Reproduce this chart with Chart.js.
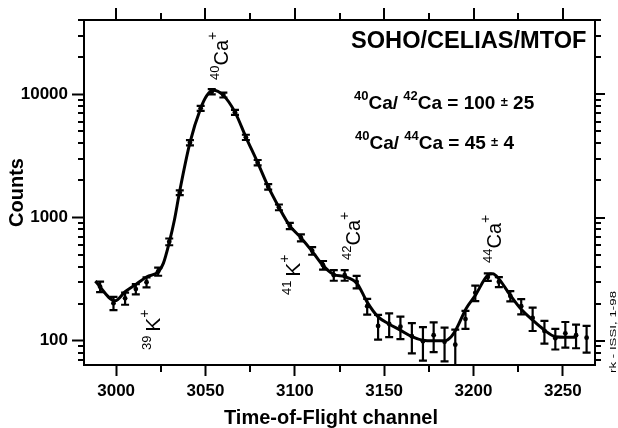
<!DOCTYPE html>
<html lang="en">
<head>
<meta charset="UTF-8">
<title>SOHO/CELIAS/MTOF - Ca isotopes</title>
<script src="https://cdn.jsdelivr.net/npm/chart.js"></script>
<style>
  html, body { margin: 0; padding: 0; background: #fff; }
  canvas { display: block; }
</style>
</head>
<body>
<canvas id="tofChart" width="618" height="428"></canvas>

<script>
  // measured spectrum (channel, counts, +/- error)
  const channels = [2991, 2998.5, 3005, 3011, 3017, 3023.5, 3029.7, 3035.6, 3041.3, 3047.3,
    3053.5, 3060, 3066.5, 3072.6, 3079.2, 3085.1, 3091.1, 3097.2, 3103.4, 3109.7,
    3115.8, 3121.8, 3127.9, 3134.6, 3140.5, 3146.6, 3152.8, 3159.1, 3165.5, 3171.7,
    3177.7, 3183.8, 3189.8, 3195.5, 3201, 3208, 3214.2, 3220.6, 3226.7, 3233.1,
    3239.7, 3245.8, 3251.4, 3257.4, 3263.3];
  const counts = [275, 202, 221, 263, 299, 365, 636, 1590, 4050, 7700,
    10500, 9870, 7140, 4480, 2790, 1778, 1211, 857, 686, 537,
    411, 341, 341, 301, 191, 132, 137, 130, 109, 99,
    111, 98, 93, 150, 245, 329, 301, 231, 191, 153,
    120, 105, 115, 111, 106];
  const countErrors = [27, 25, 25, 25, 28, 28, 40, 70, 200, 350,
    500, 450, 330, 220, 140, 90, 65, 50, 45, 38,
    33, 34, 34, 35, 28, 30, 30, 27, 30, 30,
    30, 30, 30, 25, 35, 23, 28, 22, 27, 33,
    25, 20, 27, 24, 26];

  // fitted curve
  const fitChannels = [2988.3, 2999.4, 3005, 3011.2, 3017.2, 3023.6, 3026.4, 3029.8, 3032.6, 3035.4,
    3041.3, 3047.3, 3050.8, 3054.2, 3059.8, 3066.5, 3072.6, 3079.2, 3085.1, 3091.1,
    3097.2, 3103.4, 3109.5, 3115.6, 3121.8, 3127.9, 3134.8, 3140.4, 3146.5, 3152.7,
    3159, 3165.5, 3171.7, 3177.7, 3183.8, 3187.5, 3190.3, 3195.9, 3201.1, 3208,
    3210.8, 3214.2, 3220.5, 3226.7, 3233.1, 3239.7, 3245.8, 3251.4, 3257.4];
  const fitCounts = [305, 211, 250, 288, 331, 363, 425, 636, 955, 1590,
    4050, 7700, 9800, 10800, 9870, 7170, 4500, 2790, 1780, 1211,
    857, 686, 537, 411, 345, 331, 292, 207, 157, 137,
    122, 108, 101, 100, 100, 108, 124, 183, 235, 341,
    350, 318, 235, 180, 147, 122, 108, 107, 107];

  const xTicks = [3000, 3050, 3100, 3150, 3200, 3250];
  const xMinorTicks = [3025, 3075, 3125, 3175, 3225];
  const yTicks = [100, 1000, 10000];
  const yMinorTicks = [70, 80, 90, 200, 300, 400, 500, 600, 700, 800, 900,
    2000, 3000, 4000, 5000, 6000, 7000, 8000, 9000, 20000, 30000, 40000];

  const FONT = '"Liberation Sans", Arial, Helvetica, sans-serif';

  function drawParts(ctx, parts, x, y) {
    let cx = x;
    parts.forEach(([text, size, rise, weight]) => {
      ctx.font = (weight || 'normal') + ' ' + size + 'px ' + FONT;
      ctx.fillText(text, cx, y - rise);
      cx += ctx.measureText(text).width;
    });
  }

  function drawRotated(ctx, parts, x, y, stretch) {
    ctx.save();
    ctx.translate(x, y);
    ctx.rotate(-Math.PI / 2);
    ctx.scale(stretch || 1, 1);
    drawParts(ctx, parts, 0, 0);
    ctx.restore();
  }

  // error bars, minor ticks, mirrored axes and the text annotations
  const decor = {
    id: 'decor',
    afterDatasetsDraw(chart) {
      const { ctx, chartArea: a, scales: { x, y } } = chart;
      ctx.save();
      ctx.beginPath();
      ctx.rect(a.left, a.top, a.right - a.left, a.bottom - a.top);
      ctx.clip();
      ctx.strokeStyle = '#000';
      ctx.lineWidth = 2.2;
      channels.forEach((ch, i) => {
        const px = x.getPixelForValue(ch);
        const hi = y.getPixelForValue(counts[i] + countErrors[i]);
        const lo = y.getPixelForValue(counts[i] - countErrors[i]);
        ctx.beginPath();
        ctx.moveTo(px, hi); ctx.lineTo(px, lo);
        ctx.moveTo(px - 4, hi); ctx.lineTo(px + 4, hi);
        ctx.moveTo(px - 4, lo); ctx.lineTo(px + 4, lo);
        ctx.stroke();
      });
      ctx.restore();
    },
    afterDraw(chart) {
      const { ctx, chartArea: a, scales: { x, y } } = chart;
      ctx.save();
      ctx.strokeStyle = '#000';
      ctx.lineWidth = 2;

      // top and right frame
      ctx.beginPath();
      ctx.moveTo(a.left - 1, a.top); ctx.lineTo(a.right, a.top); ctx.lineTo(a.right, a.bottom + 1);
      ctx.stroke();

      ctx.beginPath();
      xMinorTicks.forEach(v => {
        const px = Math.round(x.getPixelForValue(v));
        ctx.moveTo(px, a.bottom); ctx.lineTo(px, a.bottom + 7);
        ctx.moveTo(px, a.top); ctx.lineTo(px, a.top - 7);
      });
      xTicks.forEach(v => {
        const px = Math.round(x.getPixelForValue(v));
        ctx.moveTo(px, a.top); ctx.lineTo(px, a.top - 12);
      });
      yMinorTicks.forEach(v => {
        const py = Math.round(y.getPixelForValue(v));
        ctx.moveTo(a.left, py); ctx.lineTo(a.left - 6, py);
        ctx.moveTo(a.right, py); ctx.lineTo(a.right + 6, py);
      });
      yTicks.forEach(v => {
        const py = Math.round(y.getPixelForValue(v));
        ctx.moveTo(a.right, py); ctx.lineTo(a.right + 10, py);
      });
      ctx.stroke();

      ctx.fillStyle = '#000';
      ctx.textBaseline = 'alphabetic';
      ctx.textAlign = 'left';

      // x title
      ctx.font = 'bold 20px ' + FONT;
      ctx.textAlign = 'center';
      ctx.fillText('Time-of-Flight channel', 331, 424);
      ctx.textAlign = 'left';

      ctx.font = 'bold 23.6px ' + FONT;
      ctx.fillText('SOHO/CELIAS/MTOF', 351, 48);

      drawParts(ctx, [['40', 13, 9, 'bold'], ['Ca/ ', 19, 0, 'bold'], ['42', 13, 9, 'bold'],
        ['Ca = 100 ', 19, 0, 'bold'], ['±', 13, 3, 'bold'], [' 25', 19, 0, 'bold']], 354, 109);
      drawParts(ctx, [['40', 13, 9, 'bold'], ['Ca/ ', 19, 0, 'bold'], ['44', 13, 9, 'bold'],
        ['Ca = 45 ', 19, 0, 'bold'], ['±', 13, 3, 'bold'], [' 4', 19, 0, 'bold']], 355, 149);

      // peak labels (rotated)
      drawRotated(ctx, [['40', 13, 9], ['Ca', 20, 0], ['+', 14, 11]], 228, 80);
      drawRotated(ctx, [['39', 13, 9], [' ', 14, 0], ['K', 21, 0], ['+', 14, 11]], 160, 350);
      drawRotated(ctx, [['41', 13, 9], [' ', 14, 0], ['K', 21, 0], ['+', 14, 11]], 300, 295);
      drawRotated(ctx, [['42', 13, 9], ['Ca', 20, 0], ['+', 14, 11]], 360, 260);
      drawRotated(ctx, [['44', 13, 9], ['Ca', 20, 0], ['+', 14, 11]], 501, 263);

      drawRotated(ctx, [['rk - ISSI, 1-98', 9.5, 0]], 616, 373, 1.4);
      ctx.restore();
    }
  };

  const ctx = document.getElementById('tofChart').getContext('2d');

  new Chart(ctx, {
    type: 'scatter',
    data: {
      datasets: [{
        label: 'fit',
        data: fitChannels.map((c, i) => ({ x: c, y: fitCounts[i] })),
        showLine: true,
        borderColor: '#000',
        borderWidth: 3,
        pointRadius: 0,
        cubicInterpolationMode: 'monotone'
      }, {
        label: 'counts',
        data: channels.map((c, i) => ({ x: c, y: counts[i] })),
        pointRadius: 2.4,
        pointStyle: 'circle',
        backgroundColor: '#000',
        borderColor: '#000',
        borderWidth: 0
      }]
    },
    options: {
      responsive: false,
      animation: false,
      events: [],
      layout: { padding: { top: 20, right: 23, left: 0, bottom: 0 } },
      plugins: { legend: { display: false }, tooltip: { enabled: false } },
      scales: {
        x: {
          type: 'linear',
          min: 2982,
          max: 3268,
          afterFit: s => { s.height = 63; },
          afterBuildTicks: s => { s.ticks = xTicks.map(v => ({ value: v })); },
          border: { display: true, color: '#000', width: 2 },
          grid: { drawOnChartArea: false, tickLength: 11, tickWidth: 2, tickColor: '#000' },
          ticks: {
            color: '#000',
            padding: 5,
            maxRotation: 0,
            autoSkip: false,
            font: { family: FONT, size: 17, weight: 'bold' },
            callback: v => String(v)
          }
        },
        y: {
          type: 'logarithmic',
          min: 63.6,
          max: 40100,
          afterFit: s => { s.width = 84; },
          afterBuildTicks: s => { s.ticks = yTicks.map(v => ({ value: v })); },
          border: { display: true, color: '#000', width: 2 },
          grid: { drawOnChartArea: false, tickLength: 12, tickWidth: 2, tickColor: '#000' },
          ticks: {
            color: '#000',
            padding: 4,
            autoSkip: false,
            font: { family: FONT, size: 17, weight: 'bold' },
            callback: v => String(v)
          },
          title: {
            display: true,
            text: 'Counts',
            color: '#000',
            font: { family: FONT, size: 20, weight: 'bold', lineHeight: 1 },
            padding: { top: 7, bottom: 0 }
          }
        }
      }
    },
    plugins: [decor]
  });
</script>
</body>
</html>
